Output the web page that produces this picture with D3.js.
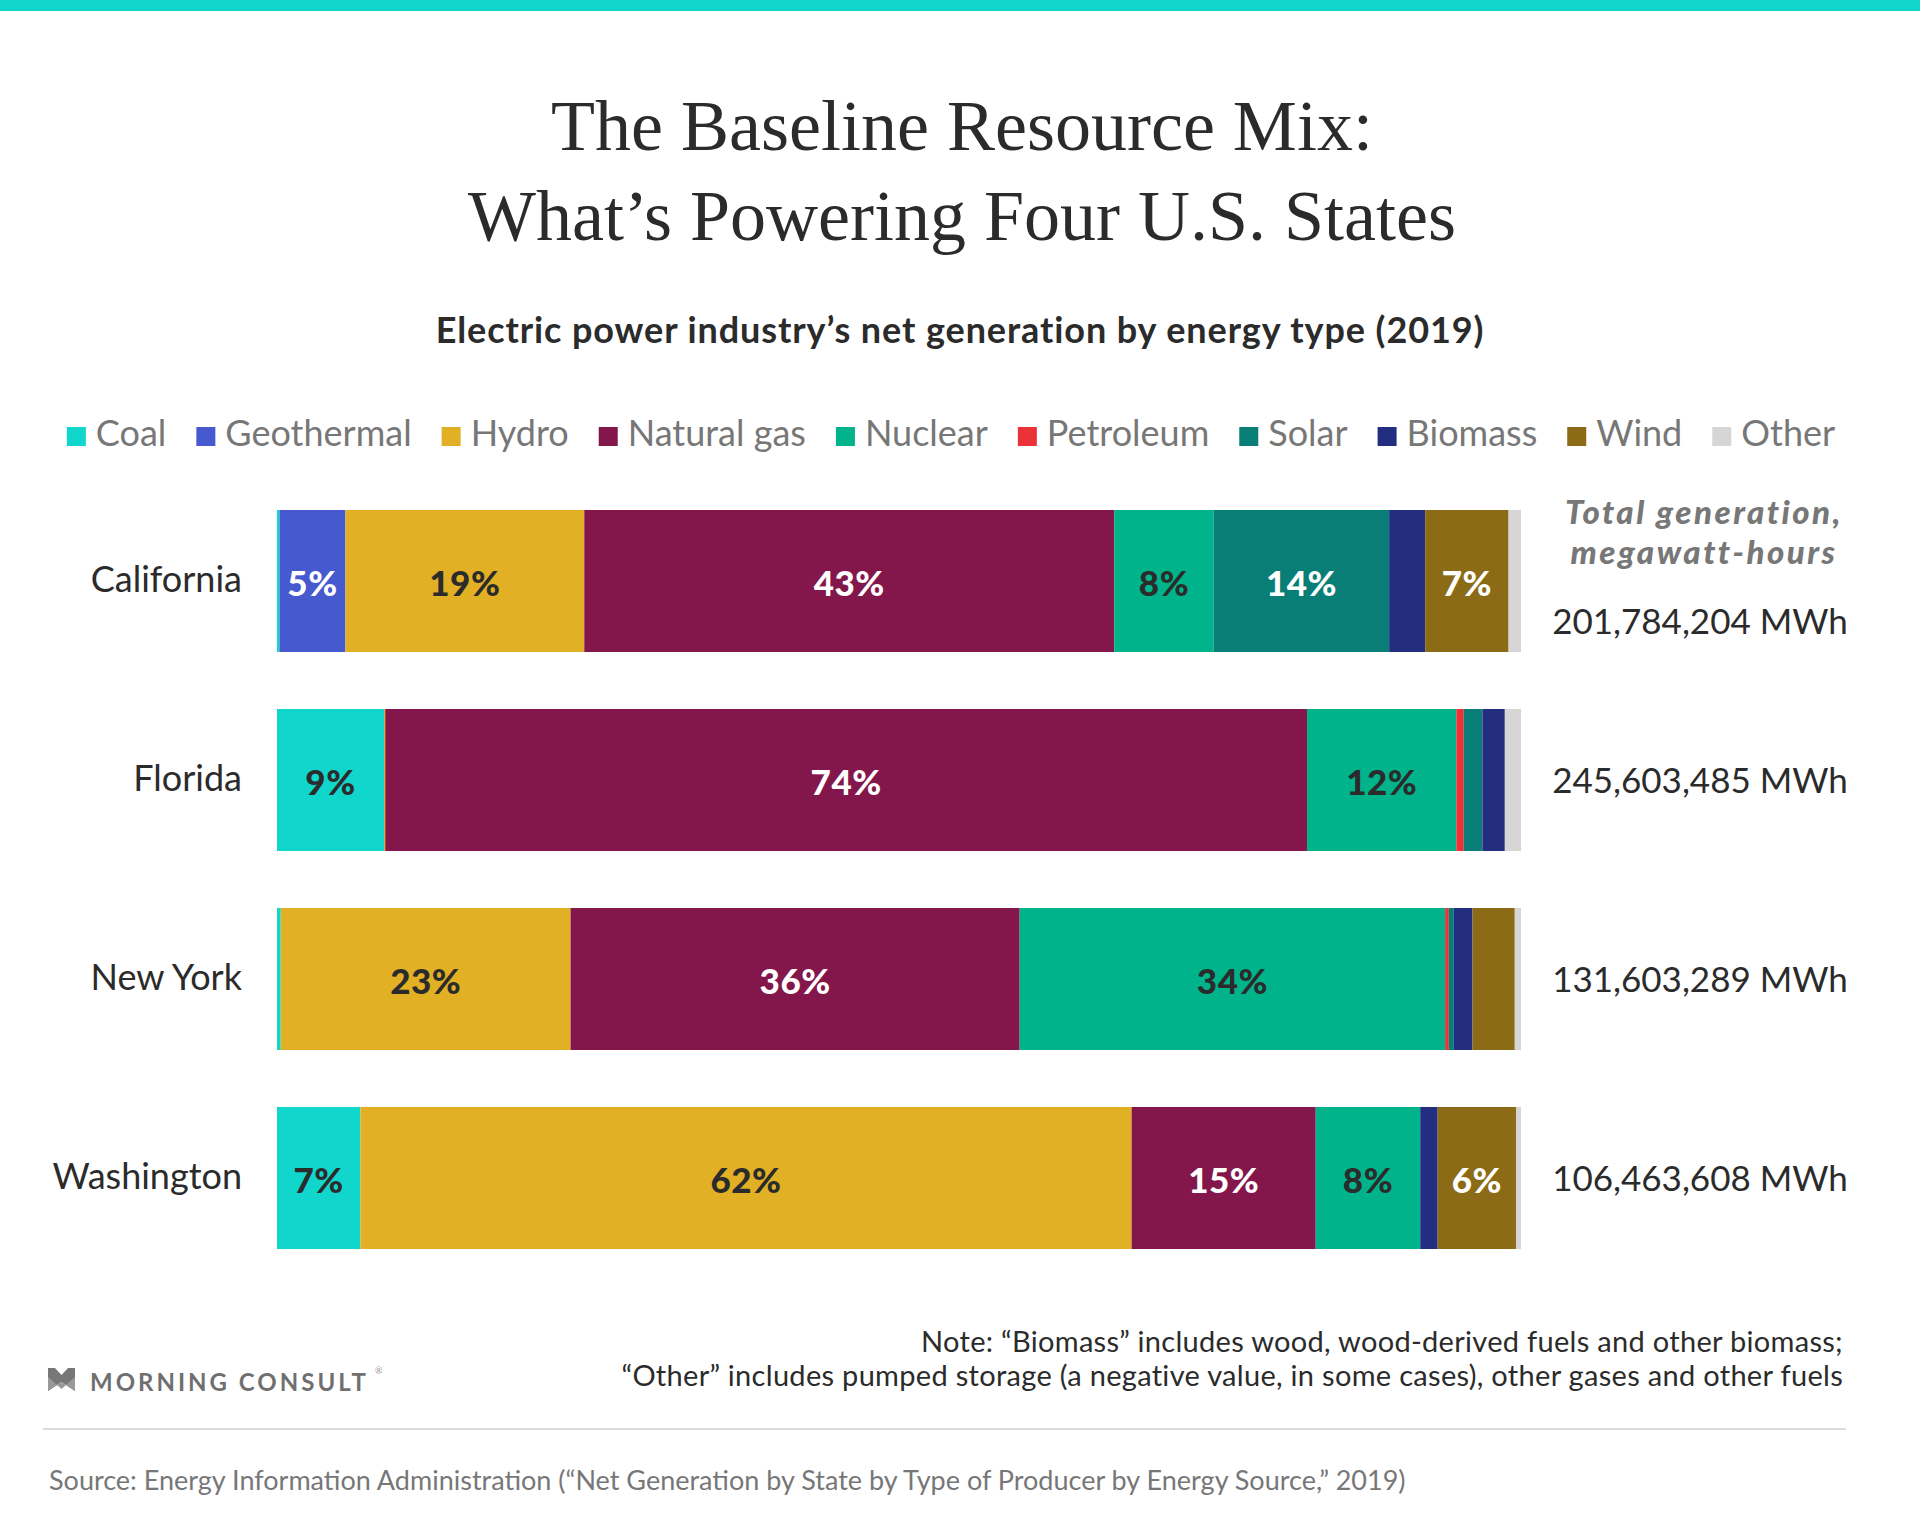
<!DOCTYPE html>
<html>
<head>
<meta charset="utf-8">
<script src="https://cdn.jsdelivr.net/npm/d3@7/dist/d3.min.js"></script>
<style>
  body { margin: 0; background: #fff; }
  text { font-family: Lato, "Open Sans", sans-serif; }
</style>
</head>
<body>
<div id="chart-area"></div>
<script>
// data (percent of each state's net generation, 2019)
var states = ["California", "Florida", "New York", "Washington"];
var totals = ["201,784,204 MWh", "245,603,485 MWh", "131,603,289 MWh", "106,463,608 MWh"];
var sources = ["Coal", "Geothermal", "Hydro", "Natural gas", "Nuclear", "Petroleum", "Solar", "Biomass", "Wind", "Other"];

var california = [0.2, 5.3, 19.2, 42.6, 8.0, 0.0, 14.1, 2.9, 6.7, 1.0];
var florida    = [8.6, 0.0, 0.1, 74.1, 12.0, 0.6, 1.5, 1.8, 0.0, 1.3];
var newYork    = [0.3, 0.0, 23.3, 36.1, 34.2, 0.3, 0.4, 1.5, 3.4, 0.5];
var washington = [6.7, 0.0, 62.0, 14.8, 8.4, 0.0, 0.0, 1.4, 6.3, 0.4];

var shares = [california, florida, newYork, washington];

// colours
var fills = ["#10d6cb", "#4759cf", "#e1b024", "#83174c", "#00b38a", "#eb3239", "#097e76", "#232e80", "#8b6b15", "#d6d6d6"];
var labelFills = ["#2b2b2b", "#fff", "#2b2b2b", "#fff", "#2b2b2b", "#fff", "#fff", "#fff", "#fff", "#2b2b2b"];

var width = 1920, height = 1536;

var svg = d3.select("#chart-area")
    .append("svg")
        .attr("width", width)
        .attr("height", height);

// top stripe
svg.append("rect")
    .attr("x", 0).attr("y", 0)
    .attr("width", width).attr("height", 11)
    .attr("fill", "#0fd5ca");

// titles
var title = svg.append("text")
    .attr("text-anchor", "middle")
    .attr("fill", "#2b2b2b")
    .style("font-family", "'Liberation Serif', serif")
    .style("font-size", "72px");
title.append("tspan").attr("x", 962).attr("y", 150).text("The Baseline Resource Mix:");
title.append("tspan").attr("x", 962).attr("y", 240).text("What\u2019s Powering Four U.S. States");

svg.append("text")
    .attr("x", 960).attr("y", 343)
    .attr("text-anchor", "middle")
    .attr("fill", "#2b2b2b")
    .style("font-size", "36px")
    .style("font-weight", 700)
    .style("letter-spacing", "0.9px")
    .text("Electric power industry\u2019s net generation by energy type (2019)");

// legend
var legend = svg.append("g");
var lx = 0;
sources.forEach(function(s, i) {
    var item = legend.append("g").attr("transform", "translate(" + lx + ",0)");
    item.append("rect")
        .attr("x", 0).attr("y", 427)
        .attr("width", 19).attr("height", 19)
        .attr("fill", fills[i]);
    var t = item.append("text")
        .attr("x", 29).attr("y", 446)
        .attr("fill", "#777")
        .style("font-size", "36px")
        .text(s);
    lx += 29 + t.node().getComputedTextLength() + 30;
});
lx -= 30;
legend.attr("transform", "translate(" + (951 - lx / 2) + ",0)");

// scales
var x = d3.scaleLinear().domain([0, 100]).range([277, 1521]);
var y = d3.scaleBand().domain(states).range([510, 1249]).paddingInner(0.2864).paddingOuter(0);

var table = states.map(function(st, i) {
    var row = { state: st, total: totals[i] };
    sources.forEach(function(s, j) { row[s] = shares[i][j]; });
    return row;
});

var series = d3.stack().keys(sources)(table);

var layers = svg.selectAll("g.layer")
    .data(series)
    .enter().append("g")
        .attr("class", "layer")
        .attr("fill", function(d, i) { return fills[i]; });

layers.selectAll("rect")
    .data(function(d) { return d; })
    .enter().append("rect")
        .attr("x", function(d) { return x(d[0]); })
        .attr("y", function(d) { return y(d.data.state); })
        .attr("width", function(d) { return x(d[1]) - x(d[0]); })
        .attr("height", y.bandwidth());

// percent labels on the bigger pieces
layers.each(function(layer, i) {
    d3.select(this).selectAll("text")
        .data(layer.filter(function(d) { return d[1] - d[0] >= 4.5; }))
        .enter().append("text")
            .attr("x", function(d) { return (x(d[0]) + x(d[1])) / 2; })
            .attr("y", function(d) { return y(d.data.state) + y.bandwidth() / 2 + 15; })
            .attr("text-anchor", "middle")
            .attr("fill", labelFills[i])
            .style("font-size", "35px")
            .style("font-weight", 900)
            .style("letter-spacing", "0.5px")
            .text(function(d) { return Math.round(d[1] - d[0]) + "%"; });
});

// state names
svg.selectAll("text.state")
    .data(states)
    .enter().append("text")
        .attr("class", "state")
        .attr("x", 242)
        .attr("y", function(d) { return y(d) + y.bandwidth() / 2 + 11; })
        .attr("text-anchor", "end")
        .attr("fill", "#2b2b2b")
        .style("font-size", "36px")
        .text(function(d) { return d; });

// totals column
var headLines = ["Total generation,", "megawatt-hours"];
svg.selectAll("text.head")
    .data(headLines)
    .enter().append("text")
        .attr("class", "head")
        .attr("x", 1704)
        .attr("y", function(d, i) { return 524 + i * 40; })
        .attr("text-anchor", "middle")
        .attr("fill", "#777")
        .style("font-size", "33px")
        .style("font-weight", 900)
        .style("font-style", "italic")
        .style("letter-spacing", "2.5px")
        .text(function(d) { return d; });

svg.selectAll("text.total")
    .data(table)
    .enter().append("text")
        .attr("class", "total")
        .attr("x", 1700)
        .attr("y", function(d, i) { return y(d.state) + y.bandwidth() / 2 + (i === 0 ? 53 : 13); })
        .attr("text-anchor", "middle")
        .attr("fill", "#2b2b2b")
        .style("font-size", "35px")
        .text(function(d) { return d.total; });

// note
var note = svg.append("text")
    .attr("text-anchor", "end")
    .attr("fill", "#2b2b2b")
    .style("font-size", "29px")
    .style("letter-spacing", "0.3px");
note.append("tspan").attr("x", 1843).attr("y", 1352)
    .text("Note: \u201cBiomass\u201d includes wood, wood-derived fuels and other biomass;");
note.append("tspan").attr("x", 1843).attr("y", 1386)
    .text("\u201cOther\u201d includes pumped storage (a negative value, in some cases), other gases and other fuels");

// logo
var logo = svg.append("g").attr("transform", "translate(48,1368)");
logo.append("path")
    .attr("d", "M0,0 L7,0 L13.5,7 L20,0 L27,0 L27,23 L13.5,14 L0,23 Z")
    .attr("fill", "#777");
logo.append("path")
    .attr("d", "M0,9 L13.5,21 L27,9 L27,23 L13.5,14 L0,23 Z")
    .attr("fill", "#999");
logo.append("text")
    .attr("x", 42).attr("y", 23)
    .attr("fill", "#6f6f6f")
    .style("font-size", "24px")
    .style("font-weight", 700)
    .style("letter-spacing", "3px")
    .text("MORNING CONSULT");
logo.append("text")
    .attr("x", 327).attr("y", 6)
    .attr("fill", "#999")
    .style("font-size", "9px")
    .text("\u00ae");

// rule + source
svg.append("line")
    .attr("x1", 43).attr("x2", 1846)
    .attr("y1", 1429).attr("y2", 1429)
    .attr("stroke", "#dcdcdc")
    .attr("stroke-width", 2);

svg.append("text")
    .attr("x", 49).attr("y", 1490)
    .attr("fill", "#777")
    .style("font-size", "27px")
    .text("Source: Energy Information Administration (\u201cNet Generation by State by Type of Producer by Energy Source,\u201d 2019)");
</script>
</body>
</html>
